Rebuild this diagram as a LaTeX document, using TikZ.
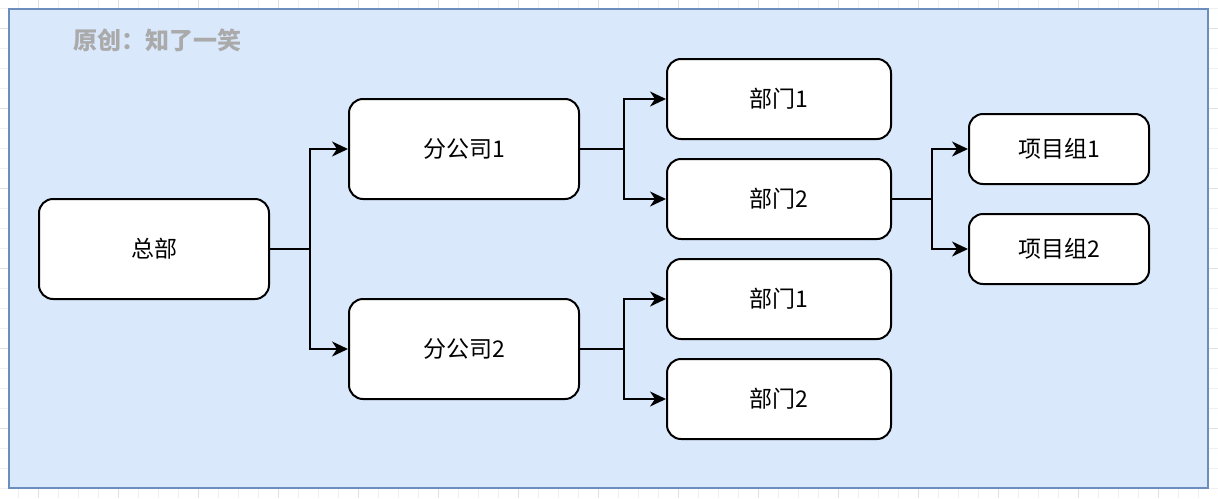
\documentclass[tikz,border=0pt]{standalone}
\usepackage{fontspec}
\setmainfont{Noto Sans CJK SC}
\usepackage{tikz}
\usetikzlibrary{arrows.meta,positioning}
\definecolor{panelfill}{HTML}{DAE8FC}
\definecolor{paneldraw}{HTML}{6C8EBF}
\definecolor{markgray}{HTML}{AAAAAA}

\begin{document}
\begin{tikzpicture}[
    x=0.5pt, y=-0.5pt,
    unit/.style={draw=black, fill=white, rounded corners=7pt, line width=1pt,
        font=\fontsize{11.5pt}{13pt}\selectfont},
    hqbox/.style={unit, minimum width=115pt, minimum height=50pt},
    branchbox/.style={unit, minimum width=115pt, minimum height=50pt},
    deptbox/.style={unit, minimum width=112pt, minimum height=40pt},
    teambox/.style={unit, minimum width=90pt, minimum height=35pt},
    link/.style={line width=1pt, -{Stealth[length=8pt, width=7.5pt, inset=2.5pt]}}
]
\useasboundingbox (0,0) rectangle (1218,498);

% 背景网格
\foreach \x in {18,38,...,1218} {
    \draw[black!6, line width=0.4pt] (\x,0) -- (\x,498);
}
\foreach \y in {8,28,...,498} {
    \draw[black!6, line width=0.4pt] (0,\y) -- (1218,\y);
}
\foreach \x in {38,118,...,1218} {
    \draw[black!12, line width=0.5pt] (\x,0) -- (\x,498);
}
\foreach \y in {28,108,...,498} {
    \draw[black!12, line width=0.5pt] (0,\y) -- (1218,\y);
}

% 面板
\draw[fill=panelfill, draw=paneldraw, line width=1pt] (9,9) rectangle (1208,488);
\node[anchor=west, text=markgray, font=\fontsize{12pt}{14pt}\selectfont\bfseries] (mark) at (66,40) {原创：知了一笑};

% 总部
\node[hqbox] (hq) at (154,249) {总部};

% 分公司
\node[branchbox] (b1) at (464,149) {分公司1};
\node[branchbox] (b2) at (464,349) {分公司2};

% 部门
\node[deptbox] (d11) at (779,99) {部门1};
\node[deptbox] (d12) at (779,199) {部门2};
\node[deptbox] (d21) at (779,299) {部门1};
\node[deptbox] (d22) at (779,399) {部门2};

% 项目组
\node[teambox] (t1) at (1059,149) {项目组1};
\node[teambox] (t2) at (1059,249) {项目组2};

% 连线
\draw[link] (hq.east) -- ++(40,0) |- (b1.west);
\draw[link] (hq.east) -- ++(40,0) |- (b2.west);
\draw[link] (b1.east) -- ++(44,0) |- (d11.west);
\draw[link] (b1.east) -- ++(44,0) |- (d12.west);
\draw[link] (b2.east) -- ++(44,0) |- (d21.west);
\draw[link] (b2.east) -- ++(44,0) |- (d22.west);
\draw[link] (d12.east) -- ++(40,0) |- (t1.west);
\draw[link] (d12.east) -- ++(40,0) |- (t2.west);
\end{tikzpicture}
\end{document}
